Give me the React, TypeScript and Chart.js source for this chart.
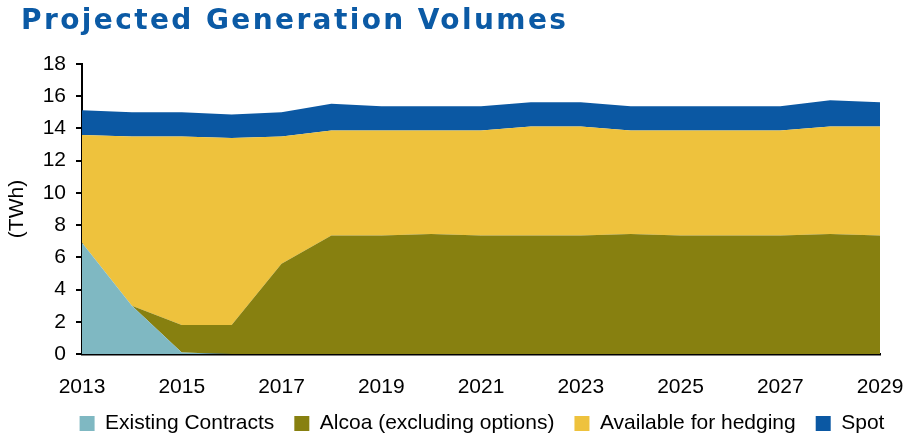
import React, { useEffect, useRef } from "react";
import { Chart, registerables } from "chart.js";

Chart.register(...registerables);

const years = [
  "2013", "2014", "2015", "2016", "2017", "2018", "2019", "2020", "2021",
  "2022", "2023", "2024", "2025", "2026", "2027", "2028", "2029",
];
const existingContracts = [6.9, 3.0, 0.1, 0, 0, 0, 0, 0, 0, 0, 0, 0, 0, 0, 0, 0, 0];
const alcoa = [0, 0, 1.7, 1.8, 5.6, 7.35, 7.35, 7.45, 7.35, 7.35, 7.35, 7.45, 7.35, 7.35, 7.35, 7.45, 7.35];
const availableForHedging = [6.7, 10.5, 11.7, 11.6, 7.9, 6.52, 6.52, 6.42, 6.52, 6.77, 6.77, 6.42, 6.52, 6.52, 6.52, 6.67, 6.77];
const spot = [1.53, 1.5, 1.5, 1.47, 1.5, 1.66, 1.51, 1.51, 1.51, 1.51, 1.51, 1.51, 1.51, 1.51, 1.51, 1.63, 1.51];

const seriesNames = ["Existing Contracts", "Alcoa (excluding options)", "Available for hedging", "Spot"];
const seriesColors = ["#7FB8C2", "#878010", "#EEC23D", "#0B58A3"];
const title = "Projected Generation Volumes";
const yAxisTitle = "(TWh)";

const FONT = "'Liberation Sans', Arial, sans-serif";

export default function App() {
  const ref = useRef<HTMLCanvasElement | null>(null);

  useEffect(() => {
    if (!ref.current) return;
    const legendShift = {
      id: "legendShift",
      afterLayout(chart: any) {
        const l = chart.legend;
        if (l) {
          l.left += 42;
          l.right += 42;
          l.top -= 11;
          l.bottom -= 11;
        }
      },
    };
    const values = [existingContracts, alcoa, availableForHedging, spot];
    const chart = new Chart(ref.current, {
      type: "line",
      data: {
        labels: years,
        datasets: values.map((d, i) => ({
          label: seriesNames[i],
          data: d,
          backgroundColor: seriesColors[i],
          borderColor: "rgba(0,0,0,0)",
          borderWidth: 0,
          pointRadius: 0,
          tension: 0,
          fill: i === 0 ? "origin" : "-1",
        })),
      },
      options: {
        animation: false,
        responsive: false,
        events: [],
        layout: { padding: { top: 64, right: 36, left: 0, bottom: 0 } },
        plugins: {
          tooltip: { enabled: false },
          title: { display: false },
          legend: {
            position: "bottom",
            labels: {
              boxWidth: 15,
              boxHeight: 15,
              padding: 20,
              color: "#000",
              font: { family: FONT, size: 21 },
            },
          },
        },
        scales: {
          x: {
            ticks: {
              color: "#000",
              font: { family: FONT, size: 21 },
              padding: 21,
              autoSkip: false,
              maxRotation: 0,
              callback: (_v: any, i: number) => (i % 2 === 0 ? years[i] : ""),
            },
            grid: { display: false, drawTicks: false },
            border: { display: true, color: "#000", width: 2.5 },
            afterFit: (s: any) => {
              s.height = 50;
              s.paddingLeft = 0;
              s.paddingRight = 0;
            },
          },
          y: {
            stacked: true,
            min: 0,
            max: 18,
            ticks: {
              stepSize: 2,
              color: "#000",
              font: { family: FONT, size: 21 },
              padding: 10,
            },
            grid: {
              display: true,
              drawOnChartArea: false,
              drawTicks: true,
              tickLength: 6,
              color: "#000",
              lineWidth: 2,
            },
            border: { display: true, color: "#000", width: 2 },
            title: {
              display: true,
              text: yAxisTitle,
              color: "#000",
              font: { family: FONT, size: 21 },
              padding: { top: 5, bottom: 0 },
            },
            afterFit: (s: any) => {
              s.width = 82;
            },
          },
        },
      },
      plugins: [legendShift],
    } as any);
    return () => chart.destroy();
  }, []);

  return (
    <div
      style={{
        position: "fixed",
        left: 0,
        top: 0,
        width: 916,
        height: 436,
        background: "#fff",
        overflow: "hidden",
      }}
    >
      <canvas ref={ref} width={916} height={455} style={{ display: "block" }} />
      <div
        style={{
          position: "absolute",
          left: 21,
          top: 5,
          fontFamily: "'DejaVu Sans', Verdana, sans-serif",
          fontWeight: "bold",
          fontSize: 28,
          lineHeight: "30px",
          letterSpacing: "2.4px",
          color: "#0B5AA5",
          whiteSpace: "nowrap",
        }}
      >
        {title}
      </div>
    </div>
  );
}
